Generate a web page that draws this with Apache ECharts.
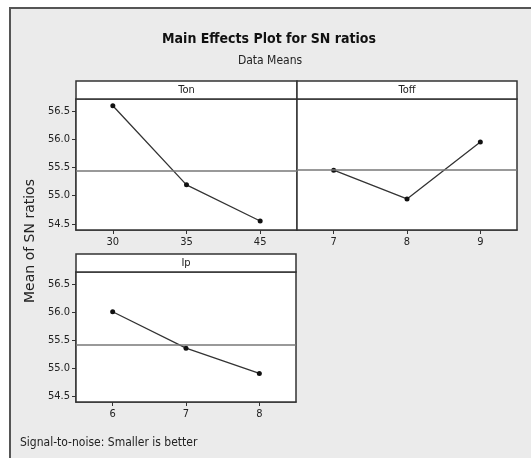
<!DOCTYPE html>
<html>
<head>
<meta charset="utf-8">
<script src="https://cdn.jsdelivr.net/npm/echarts@6/dist/echarts.min.js"></script>
<style>
html,body{margin:0;padding:0;background:#fff;}
#c{width:531px;height:458px;}
</style>
</head>
<body>
<div id="c"></div>
<script>
const tonCats = ['30', '35', '45'];
const tonVals = [56.59, 55.19, 54.55];
const toffCats = ['7', '8', '9'];
const toffVals = [55.45, 54.94, 55.95];
const ipCats = ['6', '7', '8'];
const ipVals = [56.00, 55.35, 54.90];
const yTicks = [54.5, 55.0, 55.5, 56.0, 56.5];
const panelNames = ['Ton', 'Toff', 'Ip'];

const NARROW = "'Liberation Sans Narrow', 'DejaVu Sans Condensed', 'Liberation Sans', sans-serif";
const Y_MIN = 54.39, Y_MAX = 56.71;

const mean = a => a.reduce((s, v) => s + v, 0) / a.length;

const grids = [
  {left: 76, top: 99, width: 221, height: 131},
  {left: 297, top: 99, width: 220, height: 131},
  {left: 76, top: 272, width: 220, height: 130}
];
const cats = [tonCats, toffCats, ipCats];
const vals = [tonVals, toffVals, ipVals];

const option = {
  backgroundColor: '#fff',
  animation: false,
  grid: grids.map(g => Object.assign({show: true, backgroundColor: '#fff', borderColor: '#333', borderWidth: 1.5, z: 1}, g)),
  xAxis: cats.map((c, i) => ({
    type: 'category', gridIndex: i, data: c, boundaryGap: true,
    axisLine: {show: true, lineStyle: {color: '#333', width: 1.5}},
    axisTick: {show: true, alignWithLabel: true, length: 4, lineStyle: {color: '#333'}},
    axisLabel: {color: '#222', fontSize: 11, fontFamily: NARROW, margin: 7},
    splitLine: {show: false}
  })),
  yAxis: cats.map((c, i) => ({
    type: 'value', gridIndex: i, min: Y_MIN, max: Y_MAX,
    axisLine: {show: i !== 1, lineStyle: {color: '#333', width: 1.5}},
    axisTick: {show: i !== 1, length: 4, customValues: yTicks, lineStyle: {color: '#333'}},
    axisLabel: {show: i !== 1, customValues: yTicks, color: '#222', fontSize: 11, fontFamily: NARROW, margin: 6,
      formatter: v => v.toFixed(1)},
    splitLine: {show: false}
  })),
  series: vals.map((v, i) => ({
    type: 'line', xAxisIndex: i, yAxisIndex: i, data: v,
    symbol: 'circle', symbolSize: 5,
    itemStyle: {color: '#111'},
    lineStyle: {color: '#333', width: 1.3},
    markLine: {
      silent: true, symbol: 'none', label: {show: false},
      lineStyle: {color: '#777', width: 1.5, type: 'solid'},
      data: [{yAxis: mean(v)}]
    }
  })),
  graphic: [
    {type: 'rect', z: -100, shape: {x: 10, y: 8, width: 540, height: 470},
      style: {fill: '#ebebeb', stroke: '#555', lineWidth: 2}},
    {type: 'text', x: 269, y: 39, style: {text: 'Main Effects Plot for SN ratios', fill: '#111',
      font: "bold 14px " + NARROW, align: 'center', verticalAlign: 'middle'}},
    {type: 'text', x: 270, y: 61, style: {text: 'Data Means', fill: '#222',
      font: "12px " + NARROW, align: 'center', verticalAlign: 'middle'}},
    ...grids.map((g, i) => ({type: 'rect', z: 10,
      shape: {x: g.left, y: g.top - 18, width: g.width, height: 18},
      style: {fill: '#fff', stroke: '#333', lineWidth: 1.5}})),
    ...grids.map((g, i) => ({type: 'text', z: 11,
      x: g.left + g.width / 2, y: g.top - 9,
      style: {text: panelNames[i], fill: '#222', font: "11px " + NARROW, align: 'center', verticalAlign: 'middle'}})),
    {type: 'text', x: 30, y: 241, rotation: Math.PI / 2, z: 11,
      style: {text: 'Mean of SN ratios', fill: '#222', font: "14px 'DejaVu Sans', sans-serif", align: 'center', verticalAlign: 'middle'}},
    {type: 'text', x: 20, y: 443, z: 11,
      style: {text: 'Signal-to-noise: Smaller is better', fill: '#222', font: "12px " + NARROW, align: 'left', verticalAlign: 'middle'}}
  ]
};

echarts.init(document.getElementById('c')).setOption(option);
</script>
</body>
</html>
